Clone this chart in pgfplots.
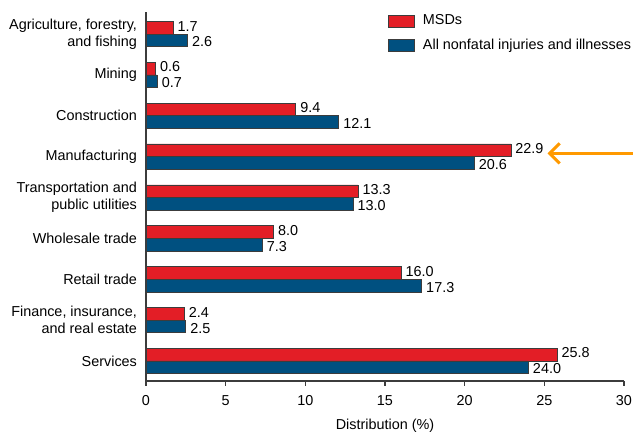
\documentclass[border=0pt]{standalone}
\usepackage{fontspec}
\setmainfont{Liberation Sans}
\usepackage{pgfplots}
\usepackage{pgfplotstable}
\pgfplotsset{compat=1.18}
\usetikzlibrary{arrows.meta}

\definecolor{msdred}{RGB}{227,30,38}
\definecolor{allblue}{RGB}{0,80,128}
\definecolor{edgegray}{RGB}{60,60,60}
\definecolor{arroworange}{RGB}{255,153,0}

% Share of cases by industry (%)
\pgfplotstableread{
idx msd all
0 1.7 2.6
1 0.6 0.7
2 9.4 12.1
3 22.9 20.6
4 13.3 13.0
5 8.0 7.3
6 16.0 17.3
7 2.4 2.5
8 25.8 24.0
}\industrytable

\begin{document}
\begin{tikzpicture}[font=\fontsize{10.8}{12.6}\selectfont]
\begin{axis}[
  at={(0pt,0pt)}, anchor=south west,
  scale only axis,
  width=358.5pt, height=276.75pt,
  xbar, bar width=0.31,
  y dir=reverse,
  xmin=0, xmax=30,
  ymin=-0.54, ymax=8.49,
  axis x line*=bottom, axis y line*=left,
  axis line style={edgegray, line width=0.8pt, -},
  xtick={0,5,...,30},
  ytick={0,...,8},
  yticklabels={
    {Agriculture, forestry,\\and fishing},
    {Mining},
    {Construction},
    {Manufacturing},
    {Transportation and\\public utilities},
    {Wholesale trade},
    {Retail trade},
    {Finance, insurance,\\and real estate},
    {Services}},
  yticklabel style={align=right, xshift=0.5pt},
  ytick style={draw=none},
  tick align=outside,
  major tick length=3.75pt,
  xtick style={edgegray, line width=0.8pt},
  xticklabel style={yshift=-3.5pt},
  /pgf/number format/assume math mode=true,
  xlabel={Distribution (\%)},
  xlabel style={yshift=-3.2pt},
  nodes near coords,
  point meta=x,
  nodes near coords style={
    /pgf/number format/.cd, fixed, fixed zerofill, precision=1,
    /tikz/.cd, anchor=west, inner sep=2pt, xshift=1.2pt},
  legend style={
    at={(0.505,1.0)}, anchor=north west,
    draw=none, fill=none, inner sep=0pt,
    row sep=5pt,
    /tikz/every odd column/.append style={column sep=4.5pt},
  },
  legend cell align=left,
  legend image code/.code={
    \draw[#1] (0pt,-4.5pt) rectangle (19.5pt,4.5pt);
  },
  clip=false,
]
\addplot[fill=msdred, draw=edgegray, line width=0.5pt, bar shift=-0.155,
  nodes near coords style={yshift=1.2pt}]
  table[x=msd, y=idx] {\industrytable};
\addlegendentry{MSDs}
\addplot[fill=allblue, draw=edgegray, line width=0.5pt, bar shift=0.155,
  nodes near coords style={yshift=-1.2pt}]
  table[x=all, y=idx] {\industrytable};
\addlegendentry{All nonfatal injuries and illnesses}

\draw[arroworange, line width=2.3pt,
      -{Straight Barb[length=7.5pt, width=15pt, line width=2.3pt]}]
  (axis cs:30.55,2.92) -- (axis cs:25.2,2.92);
\end{axis}
\pgfresetboundingbox
\path[use as bounding box] (-109.5pt,-39.75pt) rectangle (365.25pt,285.75pt);
\end{tikzpicture}
\end{document}
